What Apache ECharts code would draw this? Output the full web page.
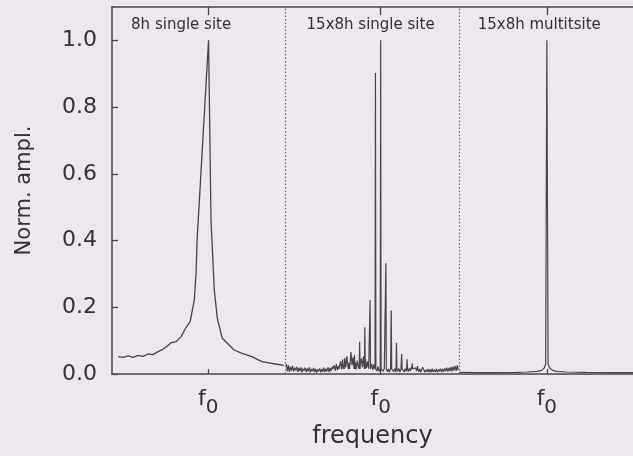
<!DOCTYPE html>
<html>
<head>
<meta charset="utf-8">
<script src="https://cdn.jsdelivr.net/npm/echarts@6/dist/echarts.min.js"></script>
<style>
  html, body { margin: 0; padding: 0; background: #efe7ee; }
  #chart { width: 633px; height: 456px; }
</style>
</head>
<body>
<div id="chart"></div>
<script>
// Frequency axis: one unit per panel, panels separated at these values
const panelEdges = [1, 2];
const panelTitles = ['8h single site', '15x8h single site', '15x8h multitsite'];
const panelTitleFreq = [0.398, 1.489, 2.46];
const panelTitleAmp = 1.046;
const f0Positions = [0.554, 1.547, 2.504];
const yTicks = [0, 0.2, 0.4, 0.6, 0.8, 1.0];

// 8h single site: one broad peak with wide wings
const singleFreq = [0.036, 0.065, 0.093, 0.122, 0.150, 0.179, 0.207, 0.236, 0.265, 0.293,
  0.313, 0.341, 0.370, 0.398, 0.427, 0.450, 0.474, 0.484, 0.490, 0.556,
  0.563, 0.570, 0.589, 0.606, 0.634, 0.657, 0.703, 0.749, 0.806, 0.863, 0.941, 0.989];
const singleAmp = [0.052, 0.050, 0.054, 0.050, 0.056, 0.053, 0.060, 0.058, 0.067, 0.074,
  0.082, 0.094, 0.097, 0.112, 0.140, 0.157, 0.222, 0.303, 0.402, 1.0,
  0.731, 0.462, 0.252, 0.168, 0.108, 0.096, 0.072, 0.062, 0.052, 0.037, 0.030, 0.026];

// 15x8h single site: noise floor on a regular frequency grid plus the alias comb
const combNoiseStart = 1.004;
const combNoiseStep = 0.006;
const combNoise = [
  0.030, 0.008, 0.026, 0.006, 0.022, 0.010, 0.024, 0.007, 0.019, 0.011,
  0.021, 0.006, 0.018, 0.009, 0.020, 0.005, 0.016, 0.010, 0.019, 0.006,
  0.017, 0.008, 0.020, 0.005, 0.015, 0.009, 0.018, 0.006, 0.016, 0.004,
  0.014, 0.008, 0.017, 0.005, 0.015, 0.007, 0.019, 0.006, 0.016, 0.008,
  0.020, 0.006, 0.018, 0.009, 0.022, 0.008, 0.026, 0.010, 0.030, 0.012,
  0.034, 0.012, 0.038, 0.014, 0.044, 0.016, 0.048, 0.020, 0.054, 0.024,
  0.060, 0.030, 0.066, 0.026, 0.050, 0.020, 0.036, 0.014, 0.040, 0.022,
  0.058, 0.030, 0.046, 0.020, 0.052, 0.026, 0.044, 0.018, 0.038, 0.016,
  0.034, 0.014, 0.030, 0.012, 0.028, 0.010, 0.024, 0.009, 0.022, 0.008,
  0.020, 0.007, 0.018, 0.008, 0.017, 0.006, 0.016, 0.007, 0.015, 0.006,
  0.016, 0.005, 0.014, 0.007, 0.016, 0.005, 0.015, 0.008, 0.017, 0.006,
  0.015, 0.007, 0.018, 0.006, 0.016, 0.008, 0.019, 0.007, 0.017, 0.009,
  0.021, 0.008, 0.019, 0.010, 0.018, 0.009, 0.016, 0.007, 0.015, 0.006,
  0.014, 0.008, 0.016, 0.005, 0.013, 0.007, 0.015, 0.005, 0.014, 0.006,
  0.016, 0.006, 0.013, 0.007, 0.015, 0.005, 0.014, 0.008, 0.016, 0.006,
  0.015, 0.007, 0.017, 0.008, 0.019, 0.007, 0.018, 0.009, 0.021, 0.008,
  0.022, 0.010, 0.024, 0.009, 0.026, 0.012
];
const combPeakFreq = [1.275, 1.305, 1.335, 1.365, 1.396, 1.426, 1.456, 1.486, 1.517,
  1.547, 1.577, 1.608, 1.638, 1.668, 1.699, 1.729, 1.759, 1.789];
const combPeakAmp = [0.020, 0.024, 0.028, 0.034, 0.057, 0.097, 0.140, 0.222, 0.902,
  1.0, 0.332, 0.190, 0.094, 0.060, 0.044, 0.032, 0.024, 0.020];

// 15x8h multisite: one clean narrow peak
const multiFreq = [2.0, 2.103, 2.217, 2.331, 2.389, 2.446, 2.474, 2.489, 2.497, 2.504,
  2.511, 2.520, 2.537, 2.560, 2.617, 2.731, 2.90, 3.0];
const multiAmp = [0.005, 0.004, 0.004, 0.005, 0.006, 0.008, 0.011, 0.018, 0.030, 1.0,
  0.030, 0.018, 0.011, 0.008, 0.006, 0.005, 0.004, 0.004];

const FONT = 'DejaVu Sans';
const INK = '#353033';
const LINE = '#4a4348';

function zip(xs, ys) { return xs.map((x, i) => [x, ys[i]]); }

// comb spectrum: noise samples, with each alias peak drawn as a narrow spike
const spikeHalfWidth = 0.0025;
const combPoints = [];
combNoise.forEach((v, i) => {
  const f = combNoiseStart + i * combNoiseStep;
  if (!combPeakFreq.some(p => Math.abs(p - f) < spikeHalfWidth + 0.001)) combPoints.push([f, v]);
});
combPeakFreq.forEach((p, i) => {
  combPoints.push([p - spikeHalfWidth, 0.015]);
  combPoints.push([p, combPeakAmp[i]]);
  combPoints.push([p + spikeHalfWidth, 0.015]);
});
combPoints.sort((a, b) => a[0] - b[0]);

const lineSeries = (data, extra) => Object.assign({
  type: 'line', data, showSymbol: false, symbol: 'none', silent: true,
  lineStyle: { color: LINE, width: 1.3 }, z: 3
}, extra || {});

const chart = echarts.init(document.getElementById('chart'), null, { renderer: 'canvas' });
chart.setOption({
  animation: false,
  backgroundColor: '#efe7ee',
  grid: { left: 112, top: 7, width: 525, height: 367, containLabel: false },
  xAxis: [{
    type: 'value', min: 0, max: 3, position: 'bottom',
    axisLine: { show: true, lineStyle: { color: LINE, width: 1.5 } },
    axisTick: { show: true, inside: true, length: 5, customValues: f0Positions, lineStyle: { color: LINE, width: 1.3 } },
    axisLabel: {
      show: true, customValues: f0Positions, margin: 14, color: INK,
      formatter: () => '{f|f}{s|0}',
      rich: {
        f: { fontFamily: FONT, fontSize: 22, lineHeight: 22, verticalAlign: 'top', color: INK },
        s: { fontFamily: FONT, fontSize: 20, lineHeight: 30, verticalAlign: 'bottom', color: INK }
      }
    },
    splitLine: { show: false },
    name: 'frequency', nameLocation: 'middle', nameGap: 51,
    nameTextStyle: { fontFamily: FONT, fontSize: 24, color: INK }
  }, {
    type: 'value', min: 0, max: 3, position: 'top',
    axisLine: { show: true, lineStyle: { color: LINE, width: 1.5 } },
    axisTick: { show: true, inside: true, length: 8, customValues: f0Positions, lineStyle: { color: LINE, width: 1.3 } },
    axisLabel: { show: false },
    splitLine: { show: false }
  }],
  yAxis: {
    type: 'value', min: 0, max: 1.1,
    axisLine: { show: true, lineStyle: { color: LINE, width: 1.5 } },
    axisTick: { show: true, inside: true, length: 6, customValues: yTicks, lineStyle: { color: LINE, width: 1.3 } },
    axisLabel: {
      customValues: yTicks, margin: 15, color: INK,
      fontFamily: FONT, fontSize: 22,
      formatter: v => v.toFixed(1)
    },
    splitLine: { show: false },
    name: 'Norm. ampl.', nameLocation: 'middle', nameRotate: 90, nameGap: 77,
    nameTextStyle: { fontFamily: FONT, fontSize: 21, color: INK }
  },
  series: [
    lineSeries(zip(singleFreq, singleAmp), {
      markLine: {
        silent: true, symbol: 'none', label: { show: false },
        lineStyle: { color: '#6a6368', width: 1.2, type: [1.5, 2] },
        data: panelEdges.map(e => ({ xAxis: e }))
      }
    }),
    lineSeries(combPoints, { lineStyle: { color: LINE, width: 1.2 } }),
    lineSeries(zip(multiFreq, multiAmp), { lineStyle: { color: LINE, width: 1.2 } })
  ]
});

// panel captions, anchored in data space
chart.setOption({
  graphic: panelTitles.map((t, i) => {
    const p = chart.convertToPixel({ xAxisIndex: 0, yAxisIndex: 0 }, [panelTitleFreq[i], panelTitleAmp]);
    return {
      type: 'text', x: p[0], y: p[1], silent: true,
      style: { text: t, fontFamily: FONT, fontSize: 15, fill: INK, align: 'center', verticalAlign: 'middle' }
    };
  })
});
</script>
</body>
</html>
